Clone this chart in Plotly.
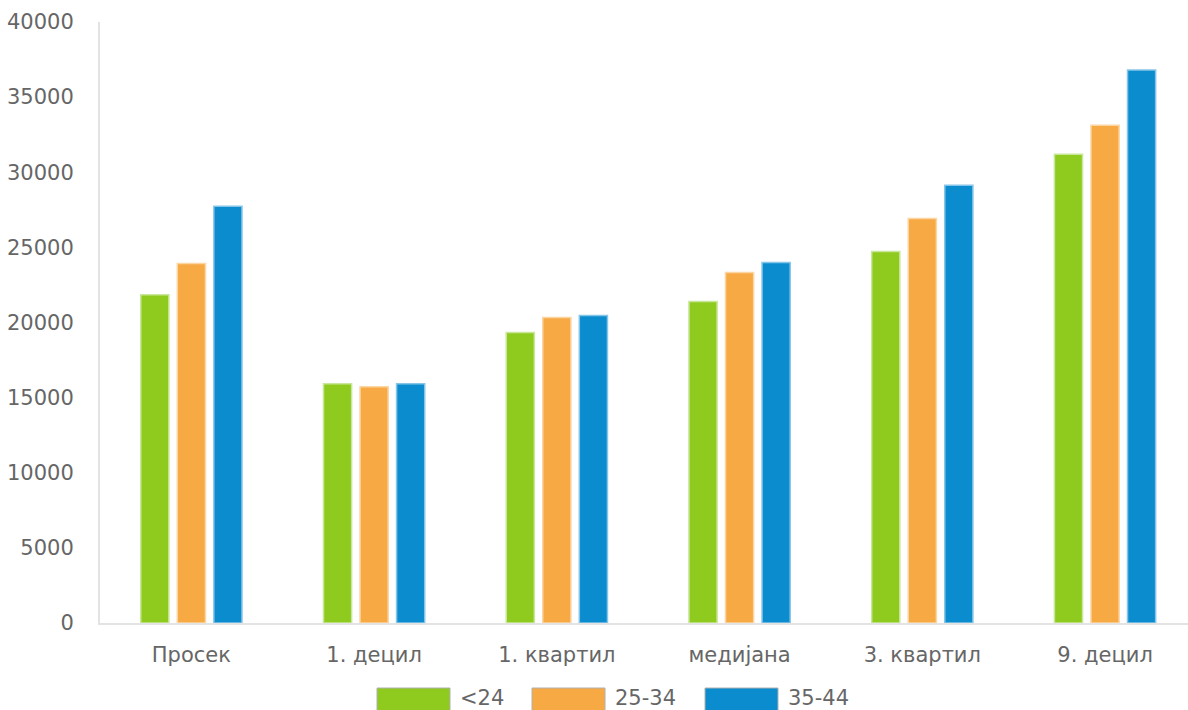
import plotly.graph_objects as go

categories = ["Просек", "1. децил", "1. квартил", "медијана", "3. квартил", "9. децил"]
series_names = ["<24", "25-34", "35-44"]
values_lt24 = [21850, 15930, 19330, 21400, 24730, 31200]
values_25_34 = [23930, 15730, 20330, 23330, 26930, 33130]
values_35_44 = [27730, 15930, 20470, 24000, 29130, 36800]
y_ticks = [0, 5000, 10000, 15000, 20000, 25000, 30000, 35000, 40000]

colors = ["#8fca1f", "#f7a944", "#0b8ccf"]
borders = ["#c9e79a", "#fbd5a2", "#86c5e8"]
all_values = [values_lt24, values_25_34, values_35_44]

FONT = "DejaVu Sans"
FS = 21

fig = go.Figure()
for name, vals, c, b in zip(series_names, all_values, colors, borders):
    fig.add_trace(go.Bar(
        x=categories, y=vals, name=name, showlegend=False,
        marker=dict(color=c, line=dict(color=b, width=1.5)),
    ))

# custom legend with large swatches
legend_x = [377, 532, 705]
W, H = 1188, 710
ml, mr, mt, mb = 100, 0, 22, 87
pw = W - ml - mr
ph = H - mt - mb
for name, c, b, lx in zip(series_names, colors, borders, legend_x):
    x0 = (lx - ml) / pw
    x1 = (lx + 73 - ml) / pw
    y0 = -(712 - mt - ph) / ph
    y1 = -(688 - mt - ph) / ph
    fig.add_shape(type="rect", xref="paper", yref="paper", x0=x0, x1=x1, y0=y0, y1=y1,
                  fillcolor=c, line=dict(color="#b0b0b0", width=1))
    fig.add_annotation(xref="paper", yref="paper", x=(lx + 81 - ml) / pw, y=-(698 - mt - ph) / ph,
                       text=name, showarrow=False, xanchor="left", yanchor="middle",
                       font=dict(family=FONT, size=FS, color="#666666"))

fig.update_layout(
    width=W, height=H,
    margin=dict(l=ml, r=mr, t=mt, b=mb),
    paper_bgcolor="white", plot_bgcolor="white",
    barmode="group", bargap=0.40, bargroupgap=0.23,
    font=dict(family=FONT, size=FS, color="#666666"),
)
fig.update_xaxes(
    range=[-0.5, 5.454], showgrid=False, showline=True, linecolor="#e3e3e3", linewidth=2,
    ticks="", ticklabelstandoff=12, tickfont=dict(size=FS, color="#666666"),
)
fig.update_yaxes(
    range=[0, 40000], tickvals=y_ticks, ticktext=[str(v) for v in y_ticks],
    showgrid=False, showline=True, linecolor="#e3e3e3", linewidth=2, zeroline=False,
    ticks="", ticklabelstandoff=20, tickfont=dict(size=FS, color="#666666"),
)

fig.write_html("out.html", config={"displayModeBar": False},
               post_script="document.body.style.margin='0';document.body.style.overflow='hidden';")
